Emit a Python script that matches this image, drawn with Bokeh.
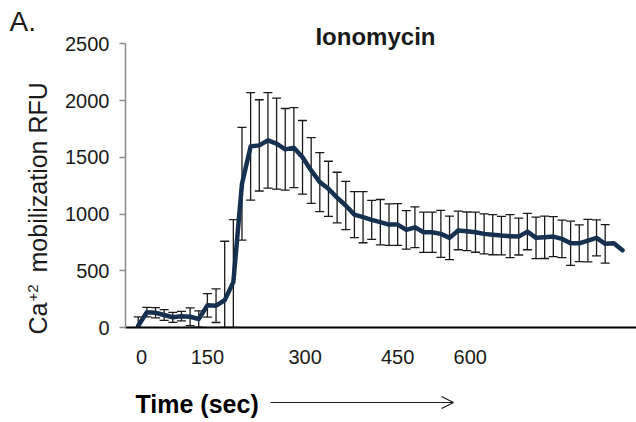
import math
from bokeh.plotting import figure
from bokeh.layouts import row, column
from bokeh.models import (Range1d, Label, Whisker, ColumnDataSource, Arrow,
                          OpenHead, FixedTicker, TeeHead)
from bokeh.embed import file_html
from bokeh.resources import INLINE

# ---------------- data ----------------
sample = list(range(57))
mean_rfu = [15, 135, 130, 110, 90, 100, 95, 75, 195, 192,
            240, 400, 1267, 1596, 1605, 1649, 1620, 1570, 1585, 1500,
            1384, 1281, 1222, 1145, 1075, 995, 972, 948, 928, 907,
            907, 860, 883, 839, 839, 825, 790, 855, 848, 840,
            825, 818, 810, 805, 801, 845, 790, 795, 801, 781,
            742, 742, 766, 790, 737, 742, 680]
err_rfu = [78, 42, 45, 47, 44, 42, 78, 72, 103, 148,
           520, 550, 497, 474, 402, 420, 401, 360, 353, 324,
           290, 260, 243, 223, 213, 203, 225, 172, 200, 183,
           184, 170, 180, 177, 177, 207, 192, 170, 170, 177,
           177, 177, 170, 190, 162, 160, 183, 187, 176, 166,
           195, 162, 187, 158, 169, None, None]
x_tick_labels = ["0", "150", "300", "450", "600"]
y_tick_values = [0, 500, 1000, 1500, 2000, 2500]

# where the time labels sit along the sample axis
x_tick_at = [0.4, 8.0, 19.3, 30.0, 38.4]

FONT = "Liberation Sans"
TXT = "#1a1a1a"
H_MAIN = 380
LEFT_W = 60
SHIFT = 0.37  # empirical baseline correction (fraction of font size)

def blank(w, h):
    f = figure(frame_width=w, frame_height=h, output_backend="svg",
               toolbar_location=None, title=None,
               x_axis_type=None, y_axis_type=None,
               x_range=Range1d(0, w), y_range=Range1d(0, h),
               min_border=0, min_border_left=0, min_border_right=0,
               min_border_top=0, min_border_bottom=0)
    f.outline_line_color = None
    f.grid.visible = False
    f.background_fill_color = "white"
    f.border_fill_color = "white"
    return f

# ---------------- main chart ----------------
y_per_px = 2500 / (327 - 43.3)
p = figure(width=636 - LEFT_W, height=H_MAIN, output_backend="svg",
           toolbar_location=None,
           x_range=Range1d(-1.47, 57.62), y_range=Range1d(0, 327 * y_per_px),
           min_border_left=125 - LEFT_W, min_border_right=0,
           min_border_top=0, min_border_bottom=H_MAIN - 327)
p.outline_line_color = None
p.grid.visible = False
p.background_fill_color = "white"
p.border_fill_color = "white"

ya = p.yaxis[0]
ya.ticker = FixedTicker(ticks=y_tick_values)
ya.bounds = (0, 2500)
ya.axis_line_color = "#8c8c8c"
ya.axis_line_width = 1.5
ya.major_tick_line_color = "#8c8c8c"
ya.major_tick_line_width = 1.5
ya.major_tick_in = 0
ya.major_tick_out = 6
ya.minor_tick_line_color = None
ya.major_label_standoff = 10
ya.major_label_text_font = FONT
ya.major_label_text_font_size = "20px"
ya.major_label_text_color = TXT

xa = p.xaxis[0]
xa.ticker = FixedTicker(ticks=x_tick_at)
xa.major_label_overrides = {t: l for t, l in zip(x_tick_at, x_tick_labels)}
xa.axis_line_color = "#000000"
xa.axis_line_width = 2
xa.major_tick_line_color = None
xa.minor_tick_line_color = None
xa.major_label_standoff = 16
xa.major_label_text_font = FONT
xa.major_label_text_font_size = "20px"
xa.major_label_text_color = TXT

idx = [i for i, e in enumerate(err_rfu) if e is not None]
src_err = ColumnDataSource(dict(
    x=[sample[i] for i in idx],
    lower=[max(mean_rfu[i] - err_rfu[i], 0) for i in idx],
    upper=[mean_rfu[i] + err_rfu[i] for i in idx],
))
wh = Whisker(source=src_err, base="x", lower="lower", upper="upper",
             dimension="height", line_color="#1a1a1a", line_width=1.3,
             upper_head=TeeHead(size=9, line_color="#1a1a1a", line_width=1.3),
             lower_head=TeeHead(size=9, line_color="#1a1a1a", line_width=1.3),
             level="underlay")
p.add_layout(wh)

src = ColumnDataSource(dict(x=sample, y=mean_rfu))
p.line("x", "y", source=src, line_width=4.5, line_color="#16304f",
       line_join="round", line_cap="round")

p.add_layout(Label(x=(375 - 137.7) / 8.65, y=(327 - 45 + SHIFT * 24) * y_per_px,
                   text="Ionomycin", text_font=FONT,
                   text_font_size="24px", text_font_style="bold",
                   text_color=TXT, text_align="center",
                   text_baseline="alphabetic"))

# ---------------- left strip: panel letter + y label ----------------
left = blank(LEFT_W, H_MAIN)
left.add_layout(Label(x=9, y=H_MAIN - 31 + SHIFT * 28, text="A.", text_font=FONT,
                      text_font_size="28px", text_color=TXT,
                      text_baseline="alphabetic"))

def vtext(txt, start_y, base_x, size):
    left.add_layout(Label(x=base_x - SHIFT * size, y=H_MAIN - start_y, text=txt,
                          text_font=FONT, text_font_size=f"{size}px",
                          text_color=TXT, angle=math.pi / 2,
                          text_align="left", text_baseline="alphabetic"))

vtext("Ca", 334, 47, 25)
vtext("+2", 301, 38, 15)
vtext("mobilization RFU", 272, 47, 25)

# ---------------- bottom strip: axis caption + arrow ----------------
H_BOT = 422 - H_MAIN
bot = blank(636, H_BOT)
bot.add_layout(Label(x=135, y=H_BOT - 413 + H_MAIN + SHIFT * 25, text="Time (sec)",
                     text_font=FONT, text_font_size="25px", text_font_style="bold",
                     text_color="#000000", text_baseline="alphabetic"))
bot.add_layout(Arrow(x_start=270, y_start=H_BOT - 22, x_end=453, y_end=H_BOT - 22,
                     line_color="#1a1a1a", line_width=1.2,
                     end=OpenHead(size=12, line_color="#1a1a1a", line_width=1.2)))

layout = column(row(left, p, spacing=0), bot, spacing=0)
open("out.html", "w").write(file_html(layout, INLINE))
